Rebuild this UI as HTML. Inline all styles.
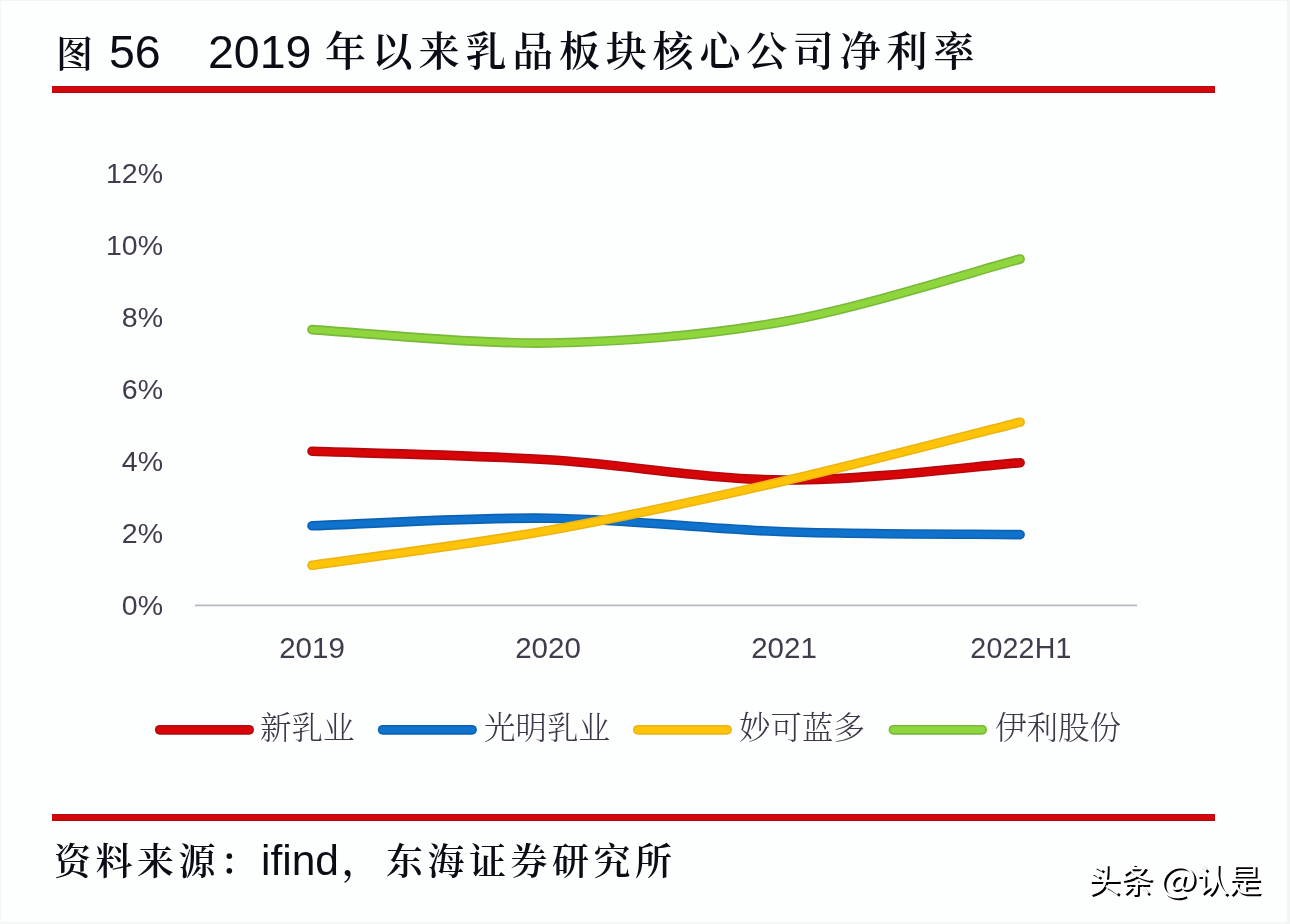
<!DOCTYPE html>
<html lang="zh-CN">
<head>
<meta charset="utf-8">
<title>图 56 2019 年以来乳品板块核心公司净利率</title>
<style>
html,body{margin:0;padding:0;background:#fdfefe;}
body{width:1290px;height:924px;position:relative;overflow:hidden;font-family:"Liberation Sans","Noto Sans CJK SC",sans-serif;}
.abs{position:absolute;white-space:nowrap;line-height:1;}
.kai{font-family:"Liberation Sans","Noto Serif CJK SC",serif;color:#0c0c16;font-weight:600;}
.kai.lat{font-weight:400;}
.rule{position:absolute;left:52px;width:1163px;height:7px;background:linear-gradient(#b2090d 0,#d4090c 28%,#d4090c 72%,#a8080b 100%);}
.ylab{position:absolute;left:60px;width:103px;text-align:right;font-size:28.5px;line-height:28px;color:#413c4d;white-space:nowrap;}
.xlab{position:absolute;top:633px;width:200px;text-align:center;font-size:29.5px;line-height:30px;color:#413c4d;white-space:nowrap;}
.leg{position:absolute;top:711px;font-family:"Liberation Serif","Noto Serif CJK SC",serif;font-size:31.5px;line-height:36px;color:#3d3849;white-space:nowrap;font-weight:300;}
svg{position:absolute;left:0;top:0;}
.wm{font-size:32.5px;line-height:34px;color:#fff;text-shadow:2px 2px 0 #000;font-family:"Liberation Sans","Noto Sans CJK SC",sans-serif;}
</style>
</head>
<body>
<div style="position:absolute;left:0;top:0;width:1290px;height:924px;box-sizing:border-box;border-top:1px solid #f3f4f4;border-left:1px solid #f5f6f7;border-right:3px solid #f3f4f5;border-bottom:2px solid #f5f6f6;"></div>
<div class="abs kai t1" style="left:56px;top:36px;font-size:37px;line-height:40px;" id="t_tu">图</div>
<div class="abs kai lat" style="left:109px;top:28px;font-size:46.5px;line-height:48px;" id="t_56">56</div>
<div class="abs kai lat" style="left:208px;top:28px;font-size:46.5px;line-height:48px;" id="t_2019">2019</div>
<div class="abs kai" style="left:325px;top:30px;font-size:41px;line-height:44px;letter-spacing:5.8px;" id="t_cjk">年以来乳品板块核心公司净利率</div>
<div class="rule" style="top:86px"></div>

<div class="ylab" style="top:159px">12%</div>
<div class="ylab" style="top:231px">10%</div>
<div class="ylab" style="top:303px">8%</div>
<div class="ylab" style="top:375px">6%</div>
<div class="ylab" style="top:447px">4%</div>
<div class="ylab" style="top:519px">2%</div>
<div class="ylab" style="top:591px">0%</div>

<svg width="1290" height="924" viewBox="0 0 1290 924">
  <line x1="195" y1="605.4" x2="1137" y2="605.4" stroke="#b3b9c1" stroke-width="1.6"/>
  <g fill="none" stroke-linecap="round" stroke-linejoin="round">
    <path d="M312.0 329.6 C351.4 331.8 469.7 344.4 548.4 343.0 C627.1 341.6 705.6 335.5 784.2 321.5 C862.8 307.5 980.8 269.4 1020.1 259.0" stroke="#78b83a" stroke-width="9.6"/>
    <path d="M312.0 329.6 C351.4 331.8 469.7 344.4 548.4 343.0 C627.1 341.6 705.6 335.5 784.2 321.5 C862.8 307.5 980.8 269.4 1020.1 259.0" stroke="#8fd63c" stroke-width="6.4"/>
    <path d="M312.0 525.8 C351.4 524.5 469.7 517.2 548.4 518.2 C627.1 519.2 705.6 529.1 784.2 531.8 C862.8 534.5 980.8 534.1 1020.1 534.6" stroke="#0c62b2" stroke-width="9.6"/>
    <path d="M312.0 525.8 C351.4 524.5 469.7 517.2 548.4 518.2 C627.1 519.2 705.6 529.1 784.2 531.8 C862.8 534.5 980.8 534.1 1020.1 534.6" stroke="#0f72cc" stroke-width="6.4"/>
    <path d="M312.0 451.3 C351.4 452.7 469.7 455.0 548.4 459.8 C627.1 464.6 705.6 479.5 784.2 480.0 C862.8 480.5 980.8 465.6 1020.1 462.7" stroke="#b3090d" stroke-width="9.6"/>
    <path d="M312.0 451.3 C351.4 452.7 469.7 455.0 548.4 459.8 C627.1 464.6 705.6 479.5 784.2 480.0 C862.8 480.5 980.8 465.6 1020.1 462.7" stroke="#d80508" stroke-width="6.4"/>
    <path d="M312.0 565.3 C351.4 559.5 469.7 544.5 548.4 530.5 C627.1 516.5 705.6 499.1 784.2 481.0 C862.8 462.9 980.8 432.0 1020.1 422.2" stroke="#ecb412" stroke-width="9.6"/>
    <path d="M312.0 565.3 C351.4 559.5 469.7 544.5 548.4 530.5 C627.1 516.5 705.6 499.1 784.2 481.0 C862.8 462.9 980.8 432.0 1020.1 422.2" stroke="#ffc408" stroke-width="6.4"/>
    <path d="M159.8 729.8 H249.1" stroke="#b3090d" stroke-width="9.8"/>
    <path d="M159.8 729.8 H249.1" stroke="#d80508" stroke-width="6.6"/>
    <path d="M382.7 729.8 H472" stroke="#0c62b2" stroke-width="9.8"/>
    <path d="M382.7 729.8 H472" stroke="#0f72cc" stroke-width="6.6"/>
    <path d="M637.9 729.8 H727" stroke="#ecb412" stroke-width="9.8"/>
    <path d="M637.9 729.8 H727" stroke="#ffc408" stroke-width="6.6"/>
    <path d="M893.5 729.8 H982.1" stroke="#78b83a" stroke-width="9.8"/>
    <path d="M893.5 729.8 H982.1" stroke="#8fd63c" stroke-width="6.6"/>
  </g>
</svg>

<div class="xlab" style="left:212px">2019</div>
<div class="xlab" style="left:448px">2020</div>
<div class="xlab" style="left:684px">2021</div>
<div class="xlab" style="left:921px;font-size:28.6px;letter-spacing:0.2px">2022H1</div>

<div class="leg" style="left:260px">新乳业</div>
<div class="leg" style="left:484px">光明乳业</div>
<div class="leg" style="left:739px">妙可蓝多</div>
<div class="leg" style="left:995px">伊利股份</div>

<div class="rule" style="top:814px"></div>
<div class="abs kai" style="left:54px;top:843px;font-size:37px;line-height:40px;letter-spacing:4.5px;" id="s_a">资料来源：</div>
<div class="abs kai lat" style="left:261px;top:838.5px;font-size:42.5px;line-height:44px;" id="s_b">ifind</div>
<div class="abs kai" style="left:342px;top:843px;font-size:37px;line-height:40px;" id="s_c">，</div>
<div class="abs kai" style="left:386px;top:843px;font-size:37px;line-height:40px;letter-spacing:4.5px;" id="s_d">东海证券研究所</div>

<div class="abs wm" style="left:1088px;top:863.5px;" id="wm1">头条</div>
<div class="abs wm" style="left:1161px;top:858.5px;font-family:'Noto Sans CJK SC',sans-serif;font-size:36px;transform:scaleX(1.1);transform-origin:50% 50%;" id="wm2">@</div>
<div class="abs wm" style="left:1196px;top:863.5px;" id="wm3">认是</div>
</body>
</html>
